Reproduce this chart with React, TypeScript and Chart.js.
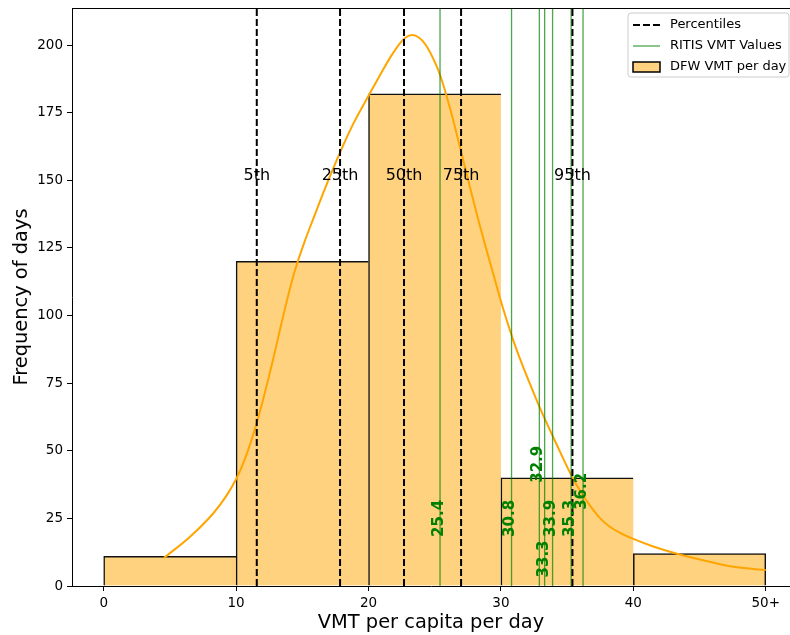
import React, { useEffect, useRef } from 'react';
import { Chart, registerables } from 'chart.js';

Chart.register(...registerables);

// Histogram bins (centres of 10-wide bins) and counts
const binCenters = [5, 15, 25, 35, 45];
const binCounts = [11, 120, 182, 40, 12];

// KDE curve
const kdeX = [4.55, 6.5, 8.28, 9.3, 10.05, 10.6, 11.1, 11.6, 12.0, 12.43, 12.9, 13.4, 13.9, 14.32, 14.7, 15.2, 15.83, 16.8, 17.85, 18.9, 20.03, 21.0, 21.7, 22.3, 22.8, 23.3, 23.8, 24.3, 25.0, 25.45, 26.2, 27.0, 28.3, 29.4, 30.15, 30.9, 31.5, 32.2, 33.0, 34.2, 35.35, 36.0, 36.7, 37.48, 38.2, 39.0, 40.0, 41.5, 43.1, 45.2, 47.7, 50.0];
const kdeY = [10.4, 18.1, 26.9, 33.6, 40.0, 46.2, 53.0, 61.0, 68.2, 76.4, 86.0, 96.6, 106.8, 114.6, 120.6, 127.7, 135.8, 148.0, 160.3, 171.4, 181.5, 190, 195.9, 200.2, 202.8, 203.7, 202.8, 200.2, 193.8, 188.3, 175.8, 160.4, 135.2, 115.7, 102.8, 91.3, 83.2, 74.6, 65.2, 52.4, 40.6, 35, 29.9, 25.1, 22.0, 19.6, 17.4, 14.6, 12.2, 9.6, 7, 5.9];

// Percentiles
const percentileValues = [11.56, 17.85, 22.68, 26.99, 35.4];
const percentileLabels = ['5th', '25th', '50th', '75th', '95th'];
const percentileLabelY = 150;

// RITIS VMT values and the heights of their labels
const ritisValues = [25.4, 30.8, 32.9, 33.3, 33.9, 35.3, 36.2];
const ritisLabelY = [25, 25, 45, 10, 25, 25, 35];

const xTicks = [0, 10, 20, 30, 40, 50];
const xTickLabels = ['0', '10', '20', '30', '40', '50+'];
const yTicks = [0, 25, 50, 75, 100, 125, 150, 175, 200];

const X_MIN = -2.394;
const X_MAX = 51.83;
const Y_MAX = 213.7;

const FONT = "'DejaVu Sans', sans-serif";
const BAR_FILL = '#ffd280';
const KDE_COLOR = '#ffa500';
const GREEN_LINE = 'rgba(0,128,0,0.7)';
const GREEN_TEXT = '#008000';

const overlayPlugin = {
  id: 'overlay',
  afterDatasetsDraw(chart: any) {
    const { ctx, chartArea } = chart;
    const xs = chart.scales.x;
    const ys = chart.scales.y;
    ctx.save();
    // top spine
    ctx.strokeStyle = '#000';
    ctx.lineWidth = 1;
    ctx.beginPath();
    ctx.moveTo(chartArea.left, chartArea.top + 0.5);
    ctx.lineTo(chartArea.right, chartArea.top + 0.5);
    ctx.stroke();

    // percentile labels
    ctx.font = `16px ${FONT}`;
    ctx.fillStyle = '#000';
    ctx.textAlign = 'center';
    ctx.textBaseline = 'alphabetic';
    percentileValues.forEach((p, i) => {
      ctx.fillText(percentileLabels[i], xs.getPixelForValue(p), ys.getPixelForValue(percentileLabelY));
    });

    // RITIS labels (rotated)
    ctx.font = `bold 15px ${FONT}`;
    ctx.fillStyle = GREEN_TEXT;
    ctx.textAlign = 'center';
    ctx.textBaseline = 'middle';
    ritisValues.forEach((v, i) => {
      ctx.save();
      ctx.translate(xs.getPixelForValue(v) - 1, ys.getPixelForValue(ritisLabelY[i]));
      ctx.rotate(-Math.PI / 2);
      ctx.fillText(v.toFixed(1), 0, 0);
      ctx.restore();
    });

    // legend
    const lx = 628, ly = 13, lw = 161, lh = 64, r = 3;
    ctx.beginPath();
    ctx.moveTo(lx + r, ly);
    ctx.lineTo(lx + lw - r, ly);
    ctx.quadraticCurveTo(lx + lw, ly, lx + lw, ly + r);
    ctx.lineTo(lx + lw, ly + lh - r);
    ctx.quadraticCurveTo(lx + lw, ly + lh, lx + lw - r, ly + lh);
    ctx.lineTo(lx + r, ly + lh);
    ctx.quadraticCurveTo(lx, ly + lh, lx, ly + lh - r);
    ctx.lineTo(lx, ly + r);
    ctx.quadraticCurveTo(lx, ly, lx + r, ly);
    ctx.closePath();
    ctx.fillStyle = 'rgba(255,255,255,0.8)';
    ctx.fill();
    ctx.strokeStyle = '#cccccc';
    ctx.lineWidth = 1;
    ctx.stroke();

    const hx0 = 633, hx1 = 660, tx = 670;
    const rows = [25, 46, 67];
    // Percentiles handle
    ctx.strokeStyle = '#000';
    ctx.lineWidth = 2;
    ctx.setLineDash([7, 3]);
    ctx.beginPath();
    ctx.moveTo(hx0, rows[0]);
    ctx.lineTo(hx1, rows[0]);
    ctx.stroke();
    ctx.setLineDash([]);
    // RITIS handle
    ctx.strokeStyle = GREEN_LINE;
    ctx.lineWidth = 1.3;
    ctx.beginPath();
    ctx.moveTo(hx0, rows[1]);
    ctx.lineTo(hx1, rows[1]);
    ctx.stroke();
    // DFW handle
    ctx.fillStyle = BAR_FILL;
    ctx.fillRect(hx0, rows[2] - 5, hx1 - hx0, 10);
    ctx.strokeStyle = '#000';
    ctx.lineWidth = 1.5;
    ctx.strokeRect(hx0, rows[2] - 5, hx1 - hx0, 10);

    ctx.font = `13px ${FONT}`;
    ctx.fillStyle = '#000';
    ctx.textAlign = 'left';
    ctx.textBaseline = 'middle';
    ctx.fillText('Percentiles', tx, rows[0]);
    ctx.fillText('RITIS VMT Values', tx, rows[1]);
    ctx.fillText('DFW VMT per day', tx, rows[2]);
    ctx.restore();
  },
};

export default function App() {
  const canvasRef = useRef<HTMLCanvasElement | null>(null);

  useEffect(() => {
    if (!canvasRef.current) return;
    Chart.defaults.font.family = FONT;
    Chart.defaults.color = '#000';

    const lastBar = binCenters.length - 1;
    const bw = 1.5;
    const datasets: any[] = [
      {
        type: 'bar',
        label: 'DFW VMT per day',
        data: binCenters.map((c, i) => ({ x: c, y: binCounts[i] })),
        backgroundColor: BAR_FILL,
        borderColor: '#111',
        borderWidth: (c: any) =>
          c.dataIndex === lastBar
            ? { left: bw, top: bw, right: bw, bottom: 0 }
            : { left: bw, top: bw, right: 0, bottom: 0 },
        borderSkipped: false,
        barPercentage: 1,
        categoryPercentage: 1,
        order: 10,
      },
      {
        type: 'line',
        label: 'KDE',
        data: kdeX.map((x, i) => ({ x, y: kdeY[i] })),
        borderColor: KDE_COLOR,
        borderWidth: 2,
        pointRadius: 0,
        cubicInterpolationMode: 'monotone',
        fill: false,
        order: 5,
      },
      ...ritisValues.map((v) => ({
        type: 'line',
        label: 'RITIS VMT Values',
        data: [{ x: v, y: 0 }, { x: v, y: Y_MAX }],
        borderColor: GREEN_LINE,
        borderWidth: 1.3,
        pointRadius: 0,
        fill: false,
        order: 2,
      })),
      ...percentileValues.map((v) => ({
        type: 'line',
        label: 'Percentiles',
        data: [{ x: v, y: 0 }, { x: v, y: Y_MAX }],
        borderColor: '#000',
        borderWidth: 2,
        borderDash: [7, 3],
        pointRadius: 0,
        fill: false,
        order: 1,
      })),
    ];

    const chart = new Chart(canvasRef.current, {
      type: 'bar',
      data: { datasets },
      options: {
        animation: false,
        responsive: true,
        maintainAspectRatio: false,
        layout: { padding: { top: 8, right: 0, left: 0, bottom: 0 } },
        plugins: { legend: { display: false }, tooltip: { enabled: false } },
        scales: {
          x: {
            type: 'linear',
            min: X_MIN,
            max: X_MAX,
            offset: false,
            afterBuildTicks: (s: any) => {
              s.ticks = xTicks.map((value) => ({ value }));
            },
            afterFit: (s: any) => {
              s.height = 49;
              s.paddingLeft = 0;
              s.paddingRight = 0;
            },
            ticks: {
              font: { size: 13.5 },
              color: '#000',
              padding: 4,
              maxRotation: 0,
              callback: (value: any) => {
                const i = xTicks.indexOf(Number(value));
                return i >= 0 ? xTickLabels[i] : '';
              },
            },
            grid: { drawOnChartArea: false, drawTicks: true, tickLength: 5, color: '#000', offset: false },
            border: { display: true, color: '#000', width: 1 },
            title: {
              display: true,
              text: 'VMT per capita per day',
              font: { size: 19.4 },
              color: '#000',
              padding: { top: 0, bottom: 0 },
            },
          },
          y: {
            type: 'linear',
            min: 0,
            max: Y_MAX,
            afterBuildTicks: (s: any) => {
              s.ticks = yTicks.map((value) => ({ value }));
            },
            afterFit: (s: any) => {
              s.width = 72;
              s.paddingTop = 0;
              s.paddingBottom = 0;
            },
            ticks: { font: { size: 13.5 }, color: '#000', padding: 4 },
            grid: { drawOnChartArea: false, drawTicks: true, tickLength: 5, color: '#000' },
            border: { display: true, color: '#000', width: 1 },
            title: {
              display: true,
              text: 'Frequency of days',
              font: { size: 19.4 },
              color: '#000',
              padding: { top: 10.5, bottom: 0 },
            },
          },
        },
      } as any,
      plugins: [overlayPlugin],
    });
    return () => chart.destroy();
  }, []);

  return (
    <div style={{ position: 'absolute', left: 0, top: 0, width: 790, height: 635, background: '#fff' }}>
      <canvas ref={canvasRef} />
    </div>
  );
}
